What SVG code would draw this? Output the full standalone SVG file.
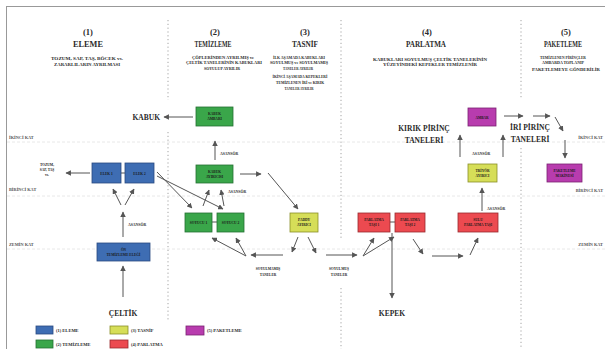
<svg xmlns="http://www.w3.org/2000/svg" width="605" height="349" viewBox="0 0 605 349">
<defs>
<marker id="ah" viewBox="0 0 10 10" refX="9" refY="5" markerWidth="5.5" markerHeight="5.5" orient="auto" markerUnits="userSpaceOnUse">
<path d="M0,0 L10,5 L0,10 z" fill="#555"/>
</marker>
<style>
text{font-family:"Liberation Serif","Times New Roman",serif;font-weight:bold;fill:#2a2a2a;text-anchor:middle}
.t{font-size:8.5px}
.d{font-size:4.2px}
.s{font-size:3.5px;fill:#1a1a1a}
.b{font-size:7.5px}
.a{font-size:3.8px;text-anchor:start}
.f{font-size:4.3px;text-anchor:start;fill:#555}
.fr{font-size:4.3px;text-anchor:end;fill:#555}
.lg{font-size:4.5px;text-anchor:start}
.sep{stroke:#9a9a9a;stroke-width:0.9;stroke-dasharray:1.2 2.6;fill:none}
.fl{stroke:#e2e2e2;stroke-width:0.8;stroke-dasharray:3 2;fill:none}
#connectors line{stroke:#555;stroke-width:1;fill:none;marker-end:url(#ah)}
#connectors line.p{marker-end:none}
.bl{fill:#3e6db3;stroke:#2a4a80;stroke-width:0.8}
.gr{fill:#3aa64a;stroke:#257032;stroke-width:0.8}
.ye{fill:#d6de58;stroke:#8a8f2a;stroke-width:0.8}
.rd{fill:#ec4a50;stroke:#9a2a2e;stroke-width:0.8}
.mg{fill:#b83cae;stroke:#7a2272;stroke-width:0.8}
</style>
</defs>
<rect x="0" y="0" width="605" height="349" fill="#fff"/>
<rect x="6.5" y="6.5" width="620" height="360" fill="none" stroke="#999" stroke-width="1"/>

<!-- floor lines -->
<g id="floors">
<line class="fl" x1="7" y1="142" x2="605" y2="142"/>
<line class="fl" x1="7" y1="196" x2="605" y2="196"/>
<line class="fl" x1="7" y1="249" x2="605" y2="249"/>
<text class="f" x="9" y="139">İKİNCİ KAT</text>
<text class="f" x="9" y="191">BİRİNCİ KAT</text>
<text class="f" x="9" y="246">ZEMİN KAT</text>
<text class="fr" x="603" y="139">İKİNCİ KAT</text>
<text class="fr" x="603" y="192">BİRİNCİ KAT</text>
<text class="fr" x="603" y="246">ZEMİN KAT</text>
</g>

<!-- separators -->
<g id="separators">
<line class="sep" x1="168" y1="20" x2="168" y2="100"/>
<line class="sep" x1="168" y1="132" x2="168" y2="320"/>
<line class="sep" x1="341" y1="20" x2="341" y2="240"/>
<line class="sep" x1="341" y1="288" x2="341" y2="349"/>
<line class="sep" x1="521" y1="20" x2="521" y2="98"/>
<line class="sep" x1="521" y1="148" x2="521" y2="349"/>
</g>

<!-- headers -->
<g id="header1">
<text class="t" x="88" y="35">(1)</text>
<text class="t" x="88" y="47" textLength="30" lengthAdjust="spacingAndGlyphs">ELEME</text>
<text class="d" x="87" y="60" textLength="72" lengthAdjust="spacingAndGlyphs">TOZUM, SAP, TAŞ, BÖCEK vs.</text>
<text class="d" x="87" y="65.5" textLength="66" lengthAdjust="spacingAndGlyphs">ZARARLILARIN AYRILMASI</text>
</g>
<g id="header2">
<text class="t" x="215" y="35">(2)</text>
<text class="t" x="213" y="47" textLength="37" lengthAdjust="spacingAndGlyphs">TEMİZLEME</text>
<text class="d" x="223" y="58.5" textLength="62" lengthAdjust="spacingAndGlyphs">ÇÖPLERİNDEN AYRILMIŞ ve</text>
<text class="d" x="224" y="64" textLength="76" lengthAdjust="spacingAndGlyphs">ÇELTİK TANELERİNİN KABUKLARI</text>
<text class="d" x="222" y="69.5" textLength="36" lengthAdjust="spacingAndGlyphs">SOYULUP AYRILIR</text>
</g>
<g id="header3">
<text class="t" x="305" y="35">(3)</text>
<text class="t" x="305" y="47" textLength="26" lengthAdjust="spacingAndGlyphs">TASNİF</text>
<text class="d" x="299" y="58.5" textLength="52" lengthAdjust="spacingAndGlyphs">İLK AŞAMADA KABUKLARI</text>
<text class="d" x="299" y="64" textLength="58" lengthAdjust="spacingAndGlyphs">SOYULMUŞ ve SOYULMAMIŞ</text>
<text class="d" x="298" y="69.5" textLength="30" lengthAdjust="spacingAndGlyphs">TANELER AYRILIR</text>
<text class="d" x="300" y="78" textLength="55" lengthAdjust="spacingAndGlyphs">İKİNCİ AŞAMADA KEPEKLERİ</text>
<text class="d" x="300" y="84" textLength="48" lengthAdjust="spacingAndGlyphs">TEMİZLENEN İRİ ve KIRIK</text>
<text class="d" x="299" y="90" textLength="29" lengthAdjust="spacingAndGlyphs">TANELER AYRILIR</text>
</g>
<g id="header4">
<text class="t" x="427" y="35">(4)</text>
<text class="t" x="426" y="47" textLength="40" lengthAdjust="spacingAndGlyphs">PARLATMA</text>
<text class="d" x="430" y="60.5" textLength="114" lengthAdjust="spacingAndGlyphs">KABUKLARI SOYULMUŞ ÇELTİK TANELERİNİN</text>
<text class="d" x="430" y="66" textLength="94" lengthAdjust="spacingAndGlyphs">YÜZEYİNDEKİ KEPEKLER TEMİZLENİR</text>
</g>
<g id="header5">
<text class="t" x="566" y="35">(5)</text>
<text class="t" x="563" y="47" textLength="38" lengthAdjust="spacingAndGlyphs">PAKETLEME</text>
<text class="d" x="563" y="58.5" textLength="46" lengthAdjust="spacingAndGlyphs">TEMİZLENEN PİRİNÇLER</text>
<text class="d" x="563" y="64" textLength="42" lengthAdjust="spacingAndGlyphs">AMBARDA TOPLANIP</text>
<text class="d" x="566" y="71" textLength="68" lengthAdjust="spacingAndGlyphs">PAKETLEMEYE GÖNDERİLİR</text>
</g>

<!-- connectors -->
<g id="connectors">
<line x1="123" y1="297" x2="123" y2="266"/>
<line x1="123" y1="237" x2="123" y2="212"/>
<line x1="121" y1="205" x2="113" y2="189"/>
<line x1="125" y1="205" x2="134" y2="189"/>
<line class="p" x1="121" y1="173" x2="125" y2="173"/>
<line x1="90" y1="173" x2="66" y2="173"/>
<line x1="157" y1="172" x2="192" y2="208"/>
<line x1="157" y1="176" x2="223" y2="209"/>
<line x1="203" y1="206" x2="209" y2="190"/>
<line x1="224" y1="206" x2="221" y2="190"/>
<line x1="215" y1="160" x2="215" y2="141"/>
<line x1="193" y1="117" x2="164" y2="117"/>
<line x1="240" y1="174" x2="261" y2="174"/>
<line x1="268" y1="173" x2="298" y2="209"/>
<line class="p" x1="212" y1="222" x2="217" y2="222"/>
<line x1="298" y1="237" x2="292" y2="252"/>
<line x1="308" y1="237" x2="316" y2="253"/>
<line x1="283" y1="255" x2="251" y2="255"/>
<line x1="246" y1="256" x2="212" y2="238"/>
<line x1="246" y1="256" x2="236" y2="238"/>
<line x1="326" y1="255" x2="357" y2="255"/>
<line x1="363" y1="256" x2="374" y2="238"/>
<line x1="363" y1="256" x2="394" y2="237"/>
<line class="p" x1="390" y1="222" x2="395" y2="222"/>
<line x1="392" y1="233" x2="392" y2="298"/>
<line x1="413" y1="239" x2="423" y2="254"/>
<line x1="432" y1="256" x2="463" y2="256"/>
<line x1="470" y1="255" x2="478" y2="238"/>
<line x1="482" y1="211" x2="482" y2="188"/>
<line x1="460" y1="157" x2="460" y2="135"/>
<line x1="503" y1="157" x2="503" y2="135"/>
<line x1="504" y1="116" x2="523" y2="116"/>
<line x1="533" y1="116" x2="550" y2="116"/>
<line x1="555" y1="117" x2="563" y2="131"/>
<line x1="565" y1="140" x2="565" y2="158"/>
<text class="a" x="128" y="226">ASANSÖR</text>
<text class="a" x="228" y="192.5">ASANSÖR</text>
<text class="a" x="220" y="155">ASANSÖR</text>
<text class="a" x="472" y="155">ASANSÖR</text>
<text class="a" x="487" y="210">ASANSÖR</text>
</g>

<!-- nodes -->
<g id="celtik"><text class="b" x="123" y="316">ÇELTİK</text></g>
<g id="tozum">
<text class="s" x="47" y="165.5">TOZUM,</text>
<text class="s" x="47" y="170.5">SAP, TAŞ</text>
<text class="s" x="47" y="175.5">vs.</text>
</g>
<g id="on-eleme"><rect class="bl" x="97" y="243" width="53" height="18"/>
<text class="s" x="123.5" y="251">ÖN</text><text class="s" x="123.5" y="256">TEMİZLEME ELEĞİ</text></g>
<g id="elek1"><rect class="bl" x="92" y="163" width="29" height="20"/><text class="s" x="106.5" y="174.5">ELEK 1</text></g>
<g id="elek2"><rect class="bl" x="125" y="163" width="29" height="20"/><text class="s" x="139.5" y="174.5">ELEK 2</text></g>
<g id="kabuk"><text class="b" x="160" y="120" style="text-anchor:end">KABUK</text></g>
<g id="kabuk-ambari"><rect class="gr" x="196" y="107" width="37" height="19"/>
<text class="s" x="214.5" y="115">KABUK</text><text class="s" x="214.5" y="120">AMBARI</text></g>
<g id="kabuk-ayirici"><rect class="gr" x="196" y="165" width="37" height="18"/>
<text class="s" x="214.5" y="172.5">KABUK</text><text class="s" x="214.5" y="177.5">AYIRICISI</text></g>
<g id="soyucu1"><rect class="gr" x="185" y="213" width="27" height="19"/><text class="s" x="198.5" y="223.5">SOYUCU 1</text></g>
<g id="soyucu2"><rect class="gr" x="217" y="213" width="27" height="19"/><text class="s" x="230.5" y="223.5">SOYUCU 2</text></g>
<g id="padi-ayirici"><rect class="ye" x="290" y="213" width="28" height="19"/>
<text class="s" x="304" y="221">PADDY</text><text class="s" x="304" y="226">AYIRICI</text></g>
<g id="soyulmamis"><text class="s" x="268" y="270">SOYULMAMIŞ</text><text class="s" x="268" y="276">TANELER</text></g>
<g id="soyulmus"><text class="s" x="339" y="270">SOYULMUŞ</text><text class="s" x="339" y="276">TANELER</text></g>
<g id="parlatma1"><rect class="rd" x="358" y="213" width="32" height="19"/>
<text class="s" x="374" y="221">PARLATMA</text><text class="s" x="374" y="226">TAŞI 1</text></g>
<g id="parlatma2"><rect class="rd" x="395" y="213" width="30" height="19"/>
<text class="s" x="410" y="221">PARLATMA</text><text class="s" x="410" y="226">TAŞI 2</text></g>
<g id="sulu-parlatma"><rect class="rd" x="458" y="213" width="40" height="19"/>
<text class="s" x="478" y="221">SULU</text><text class="s" x="478" y="226">PARLATMA TAŞI</text></g>
<g id="kepek"><text class="b" x="392" y="316">KEPEK</text></g>
<g id="triyor"><rect class="ye" x="468" y="164" width="29" height="18"/>
<text class="s" x="482.5" y="171.5">TRİYÖR</text><text class="s" x="482.5" y="176.5">AYIRICI</text></g>
<g id="kirik"><text class="b" x="424" y="131">KIRIK PİRİNÇ</text><text class="b" x="424" y="143">TANELERİ</text></g>
<g id="iri"><text class="b" x="530" y="130">İRİ PİRİNÇ</text><text class="b" x="530" y="142">TANELERİ</text></g>
<g id="ambar"><rect class="mg" x="468" y="108" width="28" height="18"/><text class="s" x="482" y="118.5">AMBAR</text></g>
<g id="paketleme"><rect class="mg" x="547" y="164" width="35" height="18"/>
<text class="s" x="564.5" y="171.5">PAKETLEME</text><text class="s" x="564.5" y="176.5">MAKİNESİ</text></g>

<!-- legend -->
<g id="legend">
<rect class="bl" x="36" y="326" width="17" height="8"/><text class="lg" x="56" y="332">(1) ELEME</text>
<rect class="gr" x="36" y="340" width="17" height="8"/><text class="lg" x="56" y="346">(2) TEMİZLEME</text>
<rect class="ye" x="110" y="326" width="18" height="8"/><text class="lg" x="131" y="332">(3) TASNİF</text>
<rect class="rd" x="110" y="340" width="18" height="8"/><text class="lg" x="131" y="346">(4) PARLATMA</text>
<rect class="mg" x="186" y="326" width="18" height="9"/><text class="lg" x="207" y="332">(5) PAKETLEME</text>
</g>
</svg>
